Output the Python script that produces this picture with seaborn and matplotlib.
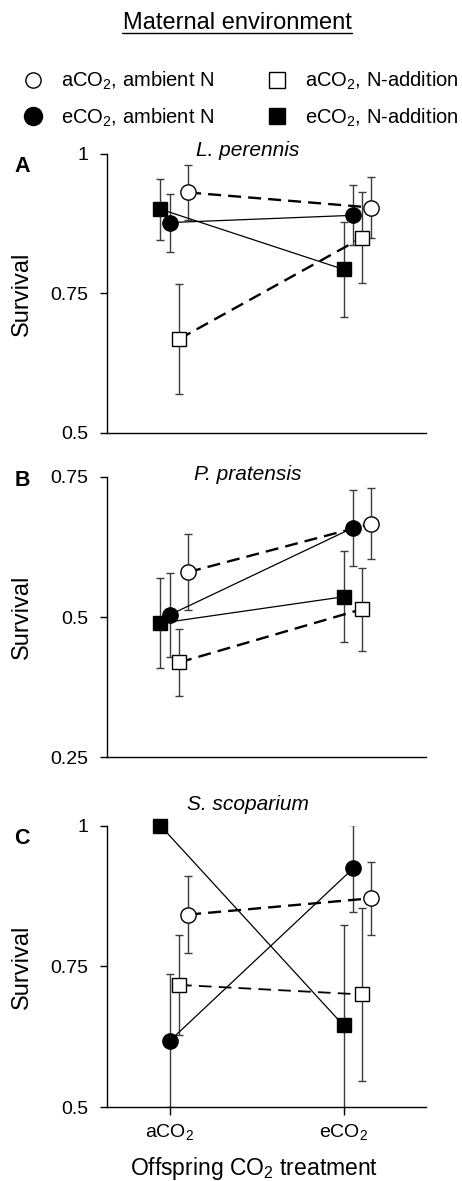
import matplotlib
matplotlib.use("Agg")
import matplotlib.pyplot as plt
from matplotlib.lines import Line2D
import seaborn as sns

# Data
levels = ["aCO$_2$", "eCO$_2$"]
series = ["eCO2, N-addition", "eCO2, ambient N", "aCO2, N-addition", "aCO2, ambient N"]
species = ["L. perennis", "P. pratensis", "S. scoparium"]
panel_letters = ["A", "B", "C"]

# survival means [aCO2, eCO2] per series, per panel
means = {
    "L. perennis": {
        "eCO2, N-addition": [0.901, 0.793],
        "eCO2, ambient N": [0.877, 0.890],
        "aCO2, N-addition": [0.668, 0.850],
        "aCO2, ambient N": [0.931, 0.904],
    },
    "P. pratensis": {
        "eCO2, N-addition": [0.489, 0.536],
        "eCO2, ambient N": [0.504, 0.659],
        "aCO2, N-addition": [0.419, 0.514],
        "aCO2, ambient N": [0.580, 0.666],
    },
    "S. scoparium": {
        "eCO2, N-addition": [1.000, 0.645],
        "eCO2, ambient N": [0.618, 0.924],
        "aCO2, N-addition": [0.717, 0.700],
        "aCO2, ambient N": [0.842, 0.871],
    },
}
errors = {
    "L. perennis": {
        "eCO2, N-addition": [0.055, 0.085],
        "eCO2, ambient N": [0.052, 0.054],
        "aCO2, N-addition": [0.098, 0.081],
        "aCO2, ambient N": [0.049, 0.054],
    },
    "P. pratensis": {
        "eCO2, N-addition": [0.080, 0.081],
        "eCO2, ambient N": [0.075, 0.068],
        "aCO2, N-addition": [0.060, 0.074],
        "aCO2, ambient N": [0.068, 0.063],
    },
    "S. scoparium": {
        "eCO2, N-addition": [0.0, 0.178],
        "eCO2, ambient N": [0.118, 0.077],
        "aCO2, N-addition": [0.089, 0.153],
        "aCO2, ambient N": [0.068, 0.065],
    },
}
ylims = {"L. perennis": (0.5, 1.0), "P. pratensis": (0.25, 0.75), "S. scoparium": (0.5, 1.0)}
yticks = {"L. perennis": [0.5, 0.75, 1.0], "P. pratensis": [0.25, 0.5, 0.75], "S. scoparium": [0.5, 0.75, 1.0]}
yticklabels = {"L. perennis": ["0.5", "0.75", "1"], "P. pratensis": ["0.25", "0.5", "0.75"],
               "S. scoparium": ["0.5", "0.75", "1"]}

# styling per series
styles = {
    "eCO2, N-addition": dict(marker="s", mfc="black", ls="-", lw=0.9, ms=10.5),
    "eCO2, ambient N": dict(marker="o", mfc="black", ls="-", lw=0.9, ms=11),
    "aCO2, N-addition": dict(marker="s", mfc="white", ls=(0, (5.5, 3)), lw=1.7, ms=10),
    "aCO2, ambient N": dict(marker="o", mfc="white", ls=(0, (5.5, 3)), lw=1.7, ms=11),
}
series_offset = {"eCO2, N-addition": -0.055, "eCO2, ambient N": 0.0,
                 "aCO2, N-addition": 0.052, "aCO2, ambient N": 0.104}
group_shift = [0.0, 0.052]

sns.set_style("ticks")
plt.rcParams["font.family"] = ["Liberation Sans", "DejaVu Sans"]
plt.rcParams["mathtext.fontset"] = "custom"
plt.rcParams["mathtext.rm"] = "Liberation Sans"
plt.rcParams["mathtext.it"] = "Liberation Sans:italic"
plt.rcParams["mathtext.bf"] = "Liberation Sans:bold"
for key in ["text.color", "axes.labelcolor", "xtick.color", "ytick.color"]:
    plt.rcParams[key] = "black"

fig = plt.figure(figsize=(4.62, 11.81), dpi=100)
W, H = 462, 1181
boxes = [(154, 432.7), (476.7, 757.3), (825.7, 1107)]
title_y = [150, 474, 805]
letter_y = [166, 480, 839]

for i, sp in enumerate(species):
    top, bot = boxes[i]
    ax = fig.add_axes([106.7 / W, 1 - bot / H, 319.3 / W, (bot - top) / H])
    for s in series:
        st = styles[s]
        lw = st["lw"]
        ls = st["ls"]
        # the open-square dashes are thinner in panel C
        if sp == "S. scoparium" and s == "aCO2, N-addition":
            lw = 1.3
            ls = (0, (7, 4))
        xs = [k + group_shift[k] + series_offset[s] for k in range(len(levels))]
        ys = means[sp][s]
        ax.errorbar(xs, ys, yerr=errors[sp][s], fmt="none", ecolor="#3c3c3c",
                    elinewidth=1.0, capsize=3.2, capthick=1.0, zorder=2)
        sns.lineplot(x=xs, y=ys, ax=ax, color="black", linestyle=ls, linewidth=lw,
                     marker=st["marker"], markersize=st["ms"], markerfacecolor=st["mfc"],
                     markeredgecolor="black", markeredgewidth=1.0, errorbar=None,
                     zorder=3, clip_on=False)
    ax.set_ylim(*ylims[sp])
    ax.set_xlim(-0.364, 1.471)
    ax.set_yticks(yticks[sp])
    ax.set_yticklabels(yticklabels[sp], fontsize=14)
    ax.tick_params(axis="y", length=5, width=1, pad=8)
    sns.despine(ax=ax)
    for side in ["left", "bottom"]:
        ax.spines[side].set_color("black")
        ax.spines[side].set_linewidth(1.0)
    ax.set_ylabel("Survival", fontsize=17)
    ax.yaxis.set_label_coords(-0.231, 0.5)
    if i < 2:
        ax.set_xticks([])
        ax.set_xlabel("")
    else:
        ax.set_xticks([0, 1])
        ax.set_xticklabels(levels, fontsize=14)
        ax.tick_params(axis="x", length=6, width=1, pad=5)
        ax.set_xlabel("Offspring CO$_2$ treatment", fontsize=16.5)
        ax.xaxis.set_label_coords(0.461, -0.2417)
        ax.xaxis.label.set_va("baseline")
    fig.text(248 / W, 1 - title_y[i] / H, sp, fontsize=15, style="italic",
             ha="center", va="center")
    fig.text(22 / W, 1 - letter_y[i] / H, panel_letters[i], fontsize=15.5,
             fontweight="bold", ha="center", va="center")

# title with underline
fig.text(237 / W, 1 - 23 / H, "Maternal environment", fontsize=17,
         ha="center", va="center")
fig.add_artist(Line2D([122 / W, 352 / W], [1 - 33 / H, 1 - 33 / H], color="black", lw=1.0))

handles = [
    Line2D([], [], ls="none", marker="o", ms=11, mfc="white", mec="black", mew=1.0),
    Line2D([], [], ls="none", marker="o", ms=13, mfc="black", mec="black", mew=1.0),
    Line2D([], [], ls="none", marker="s", ms=11, mfc="white", mec="black", mew=1.0),
    Line2D([], [], ls="none", marker="s", ms=12, mfc="black", mec="black", mew=1.0),
]
labels = ["aCO$_2$, ambient N", "eCO$_2$, ambient N", "aCO$_2$, N-addition", "eCO$_2$, N-addition"]
fig.legend(handles, labels, loc="upper left", bbox_to_anchor=(23 / W, 1 - 70 / H),
           ncol=2, frameon=False, fontsize=14.5, handlelength=1.0, handletextpad=0.9,
           columnspacing=2.6, labelspacing=0.7, borderpad=0, borderaxespad=0)

fig.savefig("out.png", dpi=100)
